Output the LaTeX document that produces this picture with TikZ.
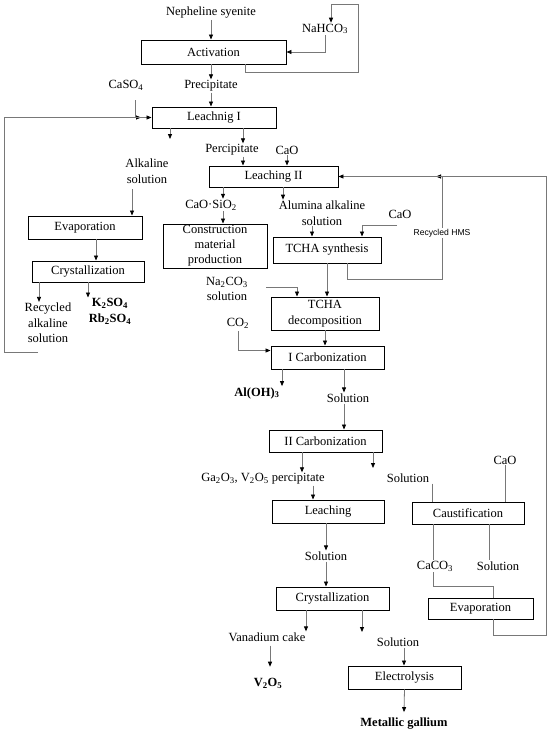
\documentclass[tikz,border=0pt]{standalone}
\usepackage{fontspec}
\setmainfont{Liberation Serif}
\newfontfamily\hmsfont{Liberation Sans}
\usetikzlibrary{positioning,arrows.meta,calc}
\definecolor{FlowGray}{RGB}{120,120,120}

\begin{document}
\begin{tikzpicture}[
    x=1pt, y=-1pt,
    font=\fontsize{12.5}{15.5}\selectfont,
    flow/.style={-{Triangle[length=5pt,width=4pt,color=black]}, line width=0.8pt, draw=FlowGray},
    plainline/.style={line width=0.8pt, draw=FlowGray},
    procbox/.style={
        draw=black,
        line width=0.9pt,
        fill=white,
        align=center,
        inner sep=0pt
    },
    txt/.style={align=center, inner sep=1pt},
    boldtxt/.style={txt, font=\fontsize{12.5}{15.5}\selectfont\bfseries},
    hmstxt/.style={inner sep=1pt, fill=white, font=\hmsfont\fontsize{8.6}{10}\selectfont}
]
\useasboundingbox (0,0) rectangle (550,734);

% Feed, activation and the NaHCO3 recycle.
\node[txt] (syenite) at (211,13) {Nepheline syenite};
\node[procbox, minimum width=145, minimum height=24] (activation) at (213.5,52) {Activation};
\node[txt] (nahco) at (325,29) {NaHCO\textsubscript{3}};
\node[txt] (precipA) at (211,86) {Precipitate};
\node[txt] (caso) at (126,85) {CaSO\textsubscript{4}};

% Leaching I and its products.
\node[procbox, minimum width=124, minimum height=21] (leachA) at (214,117.5) {Leachnig I};
\node[txt] (alksol) at (147,171) {Alkaline\\solution};
\node[txt] (precipB) at (232,150) {Percipitate};
\node[txt] (caoA) at (287,150) {CaO};

% Leaching II and its products.
\node[procbox, minimum width=129, minimum height=21] (leachB) at (273.5,176.5) {Leaching II};
\node[txt] (caosio) at (211,205) {CaO·SiO\textsubscript{2}};
\node[txt] (alumina) at (322,213) {Alumina alkaline\\solution};
\node[txt] (caoB) at (400,214) {CaO};
\node[procbox, minimum width=104, minimum height=44, font=\fontsize{12.5}{15}\selectfont] (construct) at (215,246) {Construction\\material\\production};

% Left branch: potassium and rubidium sulfates.
\node[procbox, minimum width=114, minimum height=23] (evapA) at (85,227.5) {Evaporation};
\node[procbox, minimum width=112, minimum height=21] (crystA) at (88,271.5) {Crystallization};
\node[txt] (recalk) at (48,323) {Recycled\\alkaline\\solution};
\node[boldtxt] (sulfates) at (110,311.5) {K\textsubscript{2}SO\textsubscript{4}\\Rb\textsubscript{2}SO\textsubscript{4}};

% TCHA synthesis and decomposition.
\node[procbox, minimum width=108, minimum height=26] (tchasyn) at (327,250) {TCHA synthesis};
\node[procbox, minimum width=108, minimum height=33] (tchadec) at (325,313.5) {TCHA\\decomposition};
\node[txt] (soda) at (227,289) {Na\textsubscript{2}CO\textsubscript{3}\\solution};
\node[txt] (co) at (238,323) {CO\textsubscript{2}};

% Two carbonization steps.
\node[procbox, minimum width=113, minimum height=23] (carbA) at (327.5,357.5) {I Carbonization};
\node[boldtxt] (aloh) at (257,393) {Al(OH)\textsubscript{3}};
\node[txt] (solA) at (348,398) {Solution};
\node[procbox, minimum width=113, minimum height=22] (carbB) at (325.5,441) {II Carbonization};
\node[txt] (gaprecip) at (263,479) {Ga\textsubscript{2}O\textsubscript{3}, V\textsubscript{2}O\textsubscript{5} percipitate};
\node[txt] (solB) at (408,478) {Solution};

% Gallium and vanadium recovery.
\node[procbox, minimum width=112, minimum height=23] (leachC) at (328,511.5) {Leaching};
\node[txt] (solC) at (326,556) {Solution};
\node[procbox, minimum width=113, minimum height=23] (crystB) at (332.5,598.5) {Crystallization};
\node[txt] (vcake) at (267,637) {Vanadium cake};
\node[boldtxt] (vox) at (268,683) {V\textsubscript{2}O\textsubscript{5}};
\node[txt] (solD) at (398,642) {Solution};
\node[procbox, minimum width=113, minimum height=23] (electro) at (404.5,677.5) {Electrolysis};
\node[boldtxt] (gallium) at (404,724) {Metallic gallium};

% Caustification of the carbonization mother liquor.
\node[txt] (caoC) at (505,460) {CaO};
\node[procbox, minimum width=112, minimum height=22] (caust) at (468,513) {Caustification};
\node[txt] (caco) at (435,566) {CaCO\textsubscript{3}};
\node[txt] (solE) at (498,566) {Solution};
\node[procbox, minimum width=105, minimum height=21] (evapB) at (480.5,608.5) {Evaporation};

% Bend points and free ends of the connectors.
\coordinate (nahcoTop) at (358,4);
\coordinate (casoJoin) at (141,117.5);
\coordinate (loopStart) at (38,352);
\coordinate (loopCorner) at (4,352);
\coordinate (leachAout) at (170,139);
\coordinate (hmsCorner) at (442,279);
\coordinate (hmsJoin) at (436,176.5);
\coordinate (carbBout) at (373,468);
\coordinate (crystBout) at (362,632);
\coordinate (cacoCorner) at (493,586);
\coordinate (evapCorner) at (546,635);

% Activation.
\draw[flow] (syenite.south) -- (syenite.south |- activation.north);
\draw[flow] (nahco.south) |- (activation.east);
\draw[flow] ([xshift=31.5]activation.south) -- ++(0,8) -| (nahcoTop) -| ([xshift=6]nahco.north);
\draw[flow] (precipA.north |- activation.south) -- (precipA.north);
\draw[flow] (precipA.south) -- (precipA.south |- leachA.north);

% Leaching I, with CaSO4 and the recycled alkaline solution.
\draw[flow] ([xshift=9,yshift=-9]caso.south) |- (casoJoin);
\draw[flow] (loopStart) -- (loopCorner) |- (leachA.west);
\draw[flow] (leachA.south -| leachAout) -- (leachAout);
\draw[flow] ([xshift=11]precipB.north |- leachA.south) -- ([xshift=11]precipB.north);
\draw[flow] ([xshift=11]precipB.south) -- ([xshift=11]precipB.south |- leachB.north);
\draw[flow] (caoA.south) -- (caoA.south |- leachB.north);

% Left branch.
\draw[flow] ([xshift=-15,yshift=-5]alksol.south) -- ([xshift=-15]alksol.south |- evapA.north);
\draw[flow] ([xshift=11]evapA.south) -- ([xshift=11]evapA.south |- crystA.north);
\draw[flow] ([xshift=-9]recalk.north |- crystA.south) -- ([xshift=-9]recalk.north);
\draw[flow] ([xshift=-22]sulfates.north |- crystA.south) -- ([xshift=-22]sulfates.north);

% Leaching II outputs.
\draw[flow] ([xshift=12]caosio.north |- leachB.south) -- ([xshift=12]caosio.north);
\draw[flow] ([xshift=12]caosio.south) -- ([xshift=12]caosio.south |- construct.north);
\draw[flow] ([xshift=-39]alumina.north |- leachB.south) -- ([xshift=-39]alumina.north);
\draw[flow] ([xshift=-10]alumina.south) -- ([xshift=-10]alumina.south |- tchasyn.north);
\draw[flow] ([xshift=-3,yshift=-6]caoB.south) -| ([xshift=35]tchasyn.north);

% TCHA steps and the recycled HMS.
\draw[flow] (tchasyn.south) -- (tchasyn.south |- tchadec.north);
\draw[flow] ([xshift=20]tchasyn.south) |- (hmsCorner) |- (hmsJoin);
\node[hmstxt] (hms) at (442,233) {Recycled HMS};
\draw[flow] ([xshift=17,yshift=2]soda.east) -| ([xshift=-28]tchadec.north);
\draw[flow] ([yshift=-2]co.south) |- ([yshift=7]carbA.west);
\draw[flow] (tchadec.south) -- (tchadec.south |- carbA.north);

% Carbonization.
\draw[flow] ([xshift=25]aloh.north |- carbA.south) -- ([xshift=25]aloh.north);
\draw[flow] ([xshift=-4]solA.north |- carbA.south) -- ([xshift=-4]solA.north);
\draw[flow] ([xshift=-4]solA.south) -- ([xshift=-4]solA.south |- carbB.north);
\draw[flow] ([xshift=39]gaprecip.north |- carbB.south) -- ([xshift=39]gaprecip.north);
\draw[flow] (carbB.south -| carbBout) -- (carbBout);
\draw[flow] ([xshift=50]gaprecip.south) -- ([xshift=50]gaprecip.south |- leachC.north);

% Gallium and vanadium.
\draw[flow] (solC.north |- leachC.south) -- (solC.north);
\draw[flow] (solC.south) -- (solC.south |- crystB.north);
\draw[flow] ([xshift=39]vcake.north |- crystB.south) -- ([xshift=39]vcake.north);
\draw[flow] (crystB.south -| crystBout) -- (crystBout);
\draw[flow] ([xshift=3,yshift=-3]vcake.south) -- ([xshift=2,yshift=10]vox.north);
\draw[flow] ([xshift=6]solD.south) -- ([xshift=6]solD.south |- electro.north);
\draw[flow] (electro.south) -- ([yshift=5]gallium.north);

% Caustification loop back to Leaching II.
\draw[plainline] ([xshift=2]solB.south east) -- ([xshift=2]solB.south east |- caust.north);
\draw[plainline] (caoC.south) -- (caoC.south |- caust.north);
\draw[plainline] ([xshift=-2]caco.north |- caust.south) -- ([xshift=-2]caco.north);
\draw[plainline] ([xshift=-9]solE.north |- caust.south) -- ([xshift=-9]solE.north);
\draw[plainline] ([xshift=-2]caco.south) |- (cacoCorner) -- (cacoCorner |- evapB.north);
\draw[flow] ([xshift=12.5]evapB.south) |- (evapCorner) |- (leachB.east);

\end{tikzpicture}
\end{document}
